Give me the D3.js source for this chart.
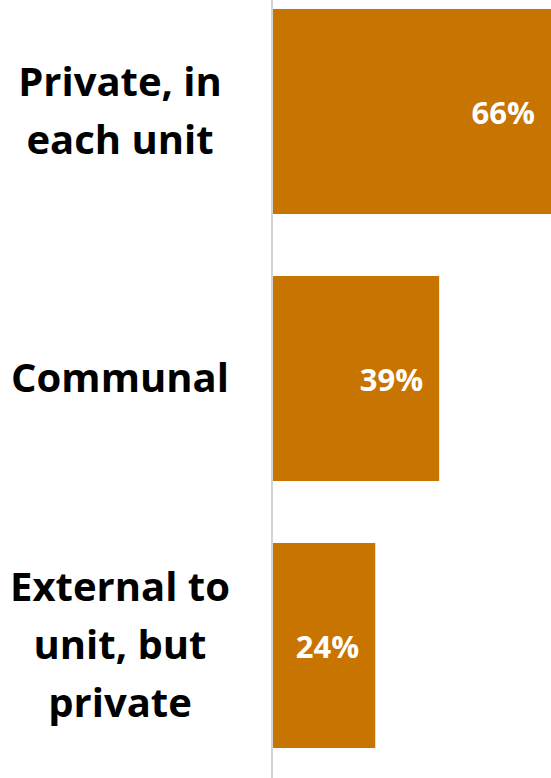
<!DOCTYPE html>
<html>
<head>
<meta charset="utf-8">
<script src="https://cdn.jsdelivr.net/npm/d3@7"></script>
<style>
  body { margin: 0; background: #fff; }
  svg { display: block; }
</style>
</head>
<body>
<svg width="551" height="778"></svg>
<script>
var categories = ['Private, in each unit', 'Communal', 'External to unit, but private'];
var labelLines = [['Private, in', 'each unit'], ['Communal'], ['External to', 'unit, but', 'private']];
var values = [0.66, 0.39, 0.24];

var svg = d3.select('svg');
var x0 = 273;

var x = d3.scaleLinear()
    .domain([0, 1])
    .range([x0, x0 + 426]);

var y = d3.scaleBand()
    .domain(categories)
    .range([-22, 779])
    .paddingInner(0.232)
    .paddingOuter(0.116);

svg.selectAll('rect.bar')
    .data(values)
    .enter().append('rect')
    .attr('class', 'bar')
    .attr('x', x(0))
    .attr('y', (d, i) => y(categories[i]))
    .attr('width', d => x(d) - x(0))
    .attr('height', y.bandwidth())
    .attr('fill', '#c87400');

// axis line
svg.append('line')
    .attr('x1', x0 - 1).attr('x2', x0 - 1)
    .attr('y1', 0).attr('y2', 778)
    .attr('stroke', '#d4d4d4')
    .attr('stroke-width', 2);

var lineH = 58;
var labels = svg.selectAll('text.cat')
    .data(labelLines)
    .enter().append('text')
    .attr('class', 'cat')
    .attr('text-anchor', 'middle')
    .attr('font-family', 'Open Sans')
    .attr('font-weight', 'bold')
    .attr('font-size', 40)
    .attr('fill', '#000');

labels.each(function(lines, i) {
    var cy = y(categories[i]) + y.bandwidth() / 2;
    var first = cy + 13 - (lines.length - 1) * lineH / 2;
    d3.select(this).selectAll('tspan')
        .data(lines)
        .enter().append('tspan')
        .attr('x', 120)
        .attr('y', (d, j) => first + j * lineH)
        .text(d => d);
});

svg.selectAll('text.val')
    .data(values)
    .enter().append('text')
    .attr('class', 'val')
    .attr('text-anchor', 'end')
    .attr('font-family', 'Open Sans')
    .attr('font-weight', 'bold')
    .attr('font-size', 31)
    .attr('fill', '#fff')
    .attr('x', (d, i) => Math.min(x(d), 551) - 16)
    .attr('y', (d, i) => y(categories[i]) + y.bandwidth() / 2 + 12)
    .text(d => Math.round(d * 100) + '%');
</script>
</body>
</html>
